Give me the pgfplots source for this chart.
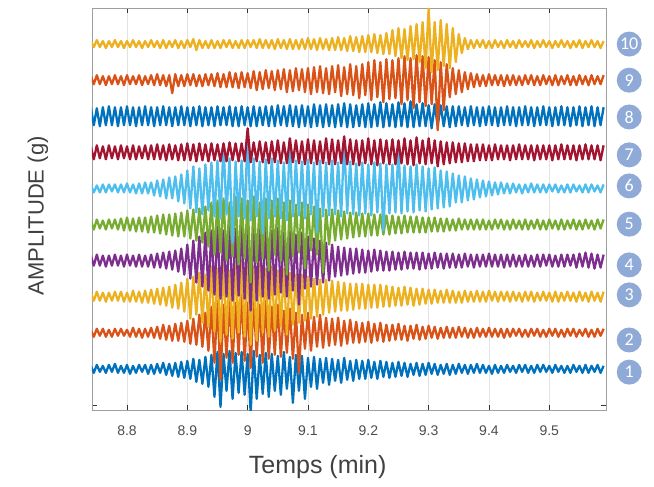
\documentclass[border=0pt]{standalone}
\usepackage{fontspec}
\setmainfont{Liberation Sans}
\newfontfamily\calib{Carlito}
\usepackage{pgfplots}
\usepackage{pgfplotstable}
\pgfplotsset{compat=1.18}

\definecolor{c1}{RGB}{0,114,189}
\definecolor{c2}{RGB}{217,83,25}
\definecolor{c3}{RGB}{237,177,32}
\definecolor{c4}{RGB}{126,47,142}
\definecolor{c5}{RGB}{119,172,48}
\definecolor{c6}{RGB}{77,190,238}
\definecolor{c7}{RGB}{162,20,47}
\definecolor{badge}{RGB}{143,170,214}
\definecolor{txt}{RGB}{64,64,64}

% one column per trace, offsets in pixels of the original (36.1 px between traces)
% samples every 0.005 min from 8.74
\pgfplotstableread[row sep=\\]{y\\
3\\-4\\4\\-3\\3\\-4\\4\\-3\\5\\-4\\
3\\-4\\4\\-5\\3\\-4\\4\\-3\\4\\-5\\
4\\-5\\5\\-4\\6\\-6\\5\\-7\\6\\-8\\
7\\-9\\8\\-10\\10\\-13\\9\\-15\\12\\-18\\
14\\-28\\17\\-38\\15\\-22\\18\\-30\\16\\-24\\
17\\-26\\15\\-44\\18\\-30\\14\\-25\\16\\-28\\
15\\-22\\13\\-26\\17\\-20\\12\\-34\\14\\-22\\
13\\-30\\11\\-18\\12\\-20\\10\\-14\\11\\-16\\
10\\-12\\9\\-14\\11\\-11\\8\\-12\\9\\-10\\
8\\-10\\9\\-9\\7\\-10\\8\\-8\\7\\-9\\
6\\-8\\7\\-7\\6\\-8\\5\\-6\\6\\-7\\
5\\-6\\6\\-5\\5\\-6\\4\\-5\\5\\-6\\
4\\-5\\5\\-4\\4\\-5\\4\\-4\\5\\-4\\
4\\-4\\3\\-5\\4\\-4\\3\\-4\\4\\-3\\
3\\-4\\4\\-3\\4\\-4\\3\\-4\\4\\-3\\
4\\-3\\3\\-4\\4\\-3\\3\\-4\\3\\-4\\
4\\-3\\3\\-4\\4\\-4\\3\\-3\\4\\-4\\
3\\}\tabA

\pgfplotstableread[row sep=\\]{y\\
3\\-4\\4\\-3\\4\\-4\\3\\-4\\4\\-3\\
4\\-3\\3\\-4\\5\\-4\\4\\-5\\4\\-4\\
5\\-5\\6\\-6\\8\\-7\\7\\-8\\9\\-8\\
10\\-9\\12\\-11\\14\\-12\\18\\-14\\20\\-18\\
26\\-30\\32\\-47\\28\\-25\\35\\-30\\30\\-22\\
38\\-28\\30\\-35\\34\\-24\\28\\-30\\32\\-26\\
26\\-22\\28\\-24\\22\\-20\\24\\-26\\20\\-40\\
18\\-16\\20\\-18\\16\\-14\\18\\-15\\15\\-13\\
14\\-12\\15\\-13\\12\\-11\\13\\-10\\11\\-10\\
10\\-9\\11\\-10\\9\\-8\\10\\-9\\8\\-8\\
8\\-7\\9\\-7\\7\\-8\\7\\-6\\8\\-7\\
6\\-6\\7\\-5\\6\\-6\\5\\-5\\6\\-5\\
5\\-5\\6\\-4\\5\\-5\\4\\-5\\5\\-4\\
4\\-4\\5\\-4\\4\\-4\\4\\-5\\4\\-4\\
4\\-3\\4\\-4\\3\\-4\\4\\-3\\4\\-4\\
3\\-4\\4\\-3\\4\\-4\\3\\-4\\4\\-3\\
4\\-4\\3\\-3\\4\\-4\\3\\-4\\4\\-3\\
4\\}\tabB

\pgfplotstableread[row sep=\\]{y\\
4\\-4\\5\\-4\\4\\-5\\4\\-4\\5\\-4\\
5\\-5\\4\\-5\\6\\-5\\5\\-6\\6\\-6\\
7\\-7\\8\\-8\\9\\-9\\10\\-11\\12\\-12\\
14\\-15\\18\\-22\\20\\-18\\24\\-26\\22\\-30\\
30\\-35\\28\\-45\\34\\-38\\26\\-42\\32\\-36\\
36\\-40\\38\\-48\\30\\-44\\34\\-36\\28\\-40\\
30\\-34\\26\\-30\\28\\-38\\24\\-28\\22\\-26\\
22\\-24\\20\\-22\\18\\-20\\17\\-18\\17\\-16\\
16\\-15\\15\\-14\\14\\-14\\13\\-13\\13\\-12\\
13\\-12\\12\\-11\\12\\-11\\12\\-10\\11\\-10\\
10\\-9\\9\\-9\\10\\-8\\9\\-9\\8\\-8\\
8\\-7\\7\\-7\\7\\-6\\6\\-6\\7\\-6\\
6\\-6\\5\\-6\\6\\-5\\5\\-5\\6\\-5\\
5\\-5\\6\\-4\\5\\-5\\5\\-4\\5\\-5\\
5\\-4\\4\\-5\\5\\-4\\5\\-5\\4\\-4\\
5\\-4\\4\\-5\\5\\-5\\4\\-4\\5\\-4\\
4\\-5\\5\\-4\\4\\-5\\5\\-4\\4\\-5\\
5\\}\tabC

\pgfplotstableread[row sep=\\]{y\\
5\\-5\\6\\-5\\5\\-6\\5\\-5\\6\\-5\\
5\\-6\\6\\-5\\5\\-6\\6\\-6\\5\\-6\\
6\\-7\\7\\-7\\8\\-8\\9\\-9\\10\\-11\\
12\\-14\\16\\-18\\20\\-22\\24\\-26\\28\\-30\\
30\\-34\\34\\-38\\30\\-36\\36\\-40\\32\\-35\\
36\\-38\\34\\-50\\37\\-40\\32\\-36\\35\\-38\\
30\\-34\\33\\-32\\28\\-36\\30\\-30\\26\\-44\\
28\\-28\\24\\-26\\22\\-24\\20\\-22\\18\\-20\\
16\\-16\\14\\-15\\13\\-14\\12\\-13\\12\\-12\\
11\\-12\\10\\-11\\11\\-10\\10\\-10\\9\\-10\\
9\\-9\\8\\-9\\9\\-8\\8\\-8\\8\\-9\\
8\\-8\\7\\-8\\8\\-7\\7\\-8\\7\\-7\\
7\\-7\\6\\-7\\7\\-6\\6\\-7\\6\\-6\\
6\\-6\\7\\-6\\6\\-6\\6\\-7\\6\\-6\\
6\\-6\\5\\-6\\6\\-6\\5\\-6\\6\\-6\\
6\\-5\\6\\-6\\5\\-6\\6\\-6\\6\\-5\\
6\\-7\\7\\-6\\8\\-7\\7\\-8\\6\\-7\\
6\\}\tabD

\pgfplotstableread[row sep=\\]{y\\
4\\-5\\5\\-4\\4\\-5\\5\\-4\\5\\-5\\
6\\-6\\7\\-6\\6\\-7\\7\\-7\\7\\-8\\
8\\-8\\9\\-9\\10\\-10\\10\\-11\\11\\-12\\
12\\-12\\14\\-14\\15\\-16\\16\\-18\\18\\-22\\
22\\-30\\24\\-28\\26\\-36\\22\\-32\\28\\-40\\
26\\-34\\24\\-58\\28\\-38\\22\\-34\\26\\-46\\
24\\-30\\26\\-36\\22\\-50\\24\\-32\\20\\-28\\
22\\-44\\20\\-26\\18\\-30\\16\\-48\\15\\-20\\
15\\-16\\14\\-15\\13\\-14\\12\\-13\\12\\-12\\
11\\-12\\11\\-11\\10\\-11\\10\\-10\\9\\-10\\
9\\-9\\8\\-9\\9\\-8\\8\\-8\\8\\-8\\
7\\-8\\7\\-7\\7\\-7\\6\\-7\\6\\-6\\
5\\-6\\6\\-5\\5\\-5\\5\\-5\\5\\-5\\
5\\-5\\4\\-5\\5\\-4\\5\\-5\\4\\-5\\
5\\-4\\4\\-5\\5\\-5\\4\\-4\\5\\-5\\
4\\-5\\5\\-4\\4\\-5\\5\\-5\\4\\-4\\
5\\-5\\4\\-5\\5\\-4\\4\\-5\\5\\-4\\
5\\}\tabE

\pgfplotstableread[row sep=\\]{y\\
4\\-4\\3\\-4\\4\\-4\\4\\-3\\4\\-4\\
4\\-4\\5\\-4\\4\\-5\\5\\-5\\6\\-5\\
6\\-7\\8\\-8\\9\\-10\\11\\-10\\12\\-13\\
14\\-15\\18\\-20\\22\\-24\\20\\-26\\24\\-22\\
26\\-28\\28\\-30\\44\\-26\\30\\-54\\27\\-28\\
28\\-30\\56\\-32\\30\\-28\\27\\-45\\29\\-30\\
30\\-28\\28\\-30\\26\\-32\\50\\-28\\28\\-27\\
27\\-30\\29\\-26\\26\\-44\\28\\-28\\26\\-27\\
28\\-26\\26\\-28\\48\\-25\\27\\-26\\25\\-27\\
26\\-25\\24\\-27\\26\\-24\\25\\-42\\24\\-25\\
24\\-24\\40\\-25\\23\\-23\\22\\-24\\24\\-22\\
22\\-23\\20\\-21\\21\\-20\\18\\-19\\17\\-18\\
15\\-14\\13\\-14\\12\\-12\\10\\-11\\9\\-9\\
8\\-8\\7\\-7\\6\\-6\\6\\-5\\5\\-5\\
5\\-4\\4\\-5\\4\\-4\\5\\-4\\4\\-4\\
4\\-4\\4\\-3\\4\\-4\\3\\-4\\4\\-4\\
4\\-3\\3\\-4\\4\\-4\\4\\-3\\3\\-4\\
4\\}\tabF

\pgfplotstableread[row sep=\\]{y\\
6\\-7\\7\\-6\\6\\-7\\7\\-6\\6\\-7\\
7\\-6\\6\\-7\\7\\-7\\6\\-6\\7\\-7\\
7\\-7\\8\\-7\\7\\-8\\8\\-7\\7\\-8\\
8\\-8\\9\\-8\\8\\-9\\9\\-8\\8\\-9\\
9\\-8\\8\\-9\\9\\-9\\10\\-8\\9\\-9\\
9\\-9\\24\\-10\\10\\-9\\11\\-10\\10\\-11\\
11\\-10\\12\\-11\\10\\-11\\14\\-10\\12\\-11\\
11\\-12\\13\\-11\\12\\-12\\11\\-11\\14\\-12\\
13\\-12\\12\\-11\\16\\-12\\13\\-12\\12\\-13\\
12\\-11\\14\\-12\\12\\-13\\13\\-11\\12\\-12\\
13\\-12\\12\\-11\\14\\-12\\12\\-13\\15\\-11\\
12\\-12\\14\\-11\\12\\-14\\11\\-12\\10\\-11\\
10\\-10\\9\\-10\\9\\-9\\8\\-9\\8\\-8\\
8\\-8\\7\\-8\\8\\-7\\7\\-7\\7\\-8\\
7\\-7\\8\\-7\\7\\-7\\7\\-8\\7\\-7\\
7\\-7\\7\\-8\\7\\-7\\8\\-7\\7\\-7\\
7\\-8\\7\\-7\\8\\-7\\7\\-7\\7\\-8\\
7\\}\tabG

\pgfplotstableread[row sep=\\]{y\\
9\\-9\\8\\-10\\9\\-9\\10\\-9\\9\\-10\\
9\\-9\\10\\-9\\9\\-10\\9\\-9\\10\\-9\\
9\\-10\\9\\-9\\10\\-9\\9\\-10\\9\\-9\\
10\\-9\\9\\-10\\9\\-9\\10\\-10\\9\\-9\\
9\\-10\\10\\-9\\9\\-9\\10\\-10\\9\\-10\\
10\\-9\\9\\-10\\10\\-10\\9\\-9\\10\\-10\\
10\\-10\\11\\-9\\10\\-10\\11\\-10\\10\\-11\\
11\\-10\\10\\-11\\12\\-10\\11\\-11\\12\\-10\\
11\\-11\\12\\-10\\13\\-11\\12\\-11\\11\\-10\\
12\\-11\\13\\-11\\12\\-10\\14\\-11\\13\\-10\\
12\\-11\\14\\-10\\13\\-11\\15\\-11\\12\\-10\\
13\\-10\\11\\-12\\12\\-10\\11\\-10\\10\\-11\\
10\\-10\\10\\-9\\9\\-10\\10\\-9\\9\\-10\\
9\\-9\\10\\-9\\9\\-10\\9\\-9\\10\\-9\\
9\\-10\\9\\-9\\10\\-9\\9\\-10\\9\\-9\\
10\\-9\\9\\-10\\9\\-9\\10\\-9\\9\\-10\\
9\\-9\\10\\-10\\9\\-9\\10\\-10\\9\\-9\\
9\\}\tabH

\pgfplotstableread[row sep=\\]{y\\
4\\-4\\5\\-4\\4\\-5\\4\\-4\\5\\-4\\
4\\-5\\5\\-4\\4\\-4\\5\\-5\\4\\-4\\
5\\-5\\6\\-5\\5\\-6\\5\\-13\\6\\-6\\
5\\-6\\6\\-5\\6\\-6\\5\\-6\\6\\-5\\
6\\-6\\7\\-7\\6\\-7\\8\\-7\\7\\-8\\
8\\-7\\7\\-8\\9\\-10\\8\\-9\\10\\-8\\
9\\-10\\10\\-9\\11\\-12\\10\\-11\\12\\-10\\
11\\-12\\12\\-14\\13\\-12\\14\\-13\\12\\-14\\
14\\-12\\15\\-16\\13\\-14\\16\\-15\\14\\-18\\
16\\-15\\18\\-20\\20\\-17\\18\\-22\\21\\-19\\
20\\-18\\22\\-24\\24\\-20\\22\\-28\\25\\-22\\
24\\-26\\23\\-24\\20\\-50\\18\\-30\\16\\-17\\
12\\-14\\10\\-12\\8\\-9\\7\\-7\\6\\-6\\
5\\-6\\6\\-5\\5\\-5\\5\\-6\\5\\-5\\
5\\-5\\4\\-5\\5\\-4\\5\\-5\\4\\-5\\
5\\-4\\4\\-5\\5\\-5\\4\\-4\\5\\-5\\
4\\-5\\5\\-4\\4\\-5\\5\\-4\\4\\-4\\
5\\}\tabI

\pgfplotstableread[row sep=\\]{y\\
3\\-3\\4\\-3\\3\\-4\\3\\-3\\4\\-3\\
3\\-4\\3\\-3\\4\\-3\\3\\-4\\3\\-3\\
4\\-3\\3\\-4\\4\\-4\\3\\-3\\4\\-4\\
3\\-4\\4\\-3\\5\\-6\\4\\-4\\3\\-4\\
4\\-4\\3\\-4\\4\\-3\\4\\-4\\3\\-4\\
4\\-4\\4\\-3\\4\\-4\\5\\-4\\4\\-4\\
4\\-5\\5\\-4\\4\\-5\\5\\-5\\4\\-5\\
5\\-5\\6\\-5\\5\\-6\\6\\-5\\5\\-6\\
6\\-6\\7\\-6\\6\\-7\\8\\-7\\7\\-8\\
8\\-8\\9\\-8\\10\\-9\\9\\-10\\11\\-10\\
14\\-12\\16\\-14\\15\\-16\\18\\-15\\20\\-18\\
22\\-24\\36\\-28\\22\\-26\\24\\-22\\20\\-24\\
16\\-18\\10\\-9\\6\\-5\\4\\-4\\4\\-3\\
4\\-4\\3\\-4\\4\\-3\\3\\-4\\4\\-3\\
3\\-4\\4\\-3\\3\\-3\\4\\-4\\3\\-3\\
4\\-3\\3\\-4\\3\\-3\\4\\-3\\3\\-4\\
3\\-3\\4\\-4\\3\\-3\\4\\-3\\3\\-4\\
3\\}\tabJ

\newcommand{\trace}[3]{%
  \addplot[#3] table[x expr=8.74+0.005*\coordindex, y expr=#2+\thisrow{y}/36.1] {#1};
}

\begin{document}
\begin{tikzpicture}[badge/.style={circle, fill=badge, text=white, minimum size=25pt,
        inner sep=0pt, font=\calib\fontsize{18}{18}\selectfont}]
\begin{axis}[
    width=514pt, height=402pt,
    scale only axis,
    xmin=8.742, xmax=9.594,
    ymin=-0.14, ymax=11.0,
    xtick={8.8,8.9,9,9.1,9.2,9.3,9.4,9.5},
    ytick={0}, yticklabels={},
    tick align=inside,
    major tick length=5pt,
    xmajorgrids, ymajorgrids=false,
    grid style={gray!22, line width=0.6pt},
    axis line style={gray!75, line width=0.8pt},
    tick style={black!80, line width=0.8pt},
    /pgf/number format/assume math mode=true,
    ticklabel style={font=\fontsize{14}{16}\selectfont, text=black!70},
    xticklabel style={yshift=-12pt},
    xlabel={Temps (min)},
    xlabel style={font=\fontsize{25}{28}\selectfont, text=txt,
        at={(axis description cs:0.439,-0.142)}, anchor=center},
    ylabel={AMPLITUDE (g)},
    ylabel style={font=\fontsize{22}{24}\selectfont, text=txt,
        at={(axis description cs:-0.105,0.483)}, anchor=center},
    every axis plot/.append style={line width=2.3pt, line join=round},
    table/x index=0, table/y index=0,
]
\trace{\tabA}{1}{c1}
\trace{\tabB}{2}{c2}
\trace{\tabC}{3}{c3}
\trace{\tabD}{4}{c4}
\trace{\tabE}{5}{c5}
\trace{\tabF}{6}{c6}
\trace{\tabG}{7}{c7}
\trace{\tabH}{8}{c1}
\trace{\tabI}{9}{c2}
\trace{\tabJ}{10}{c3}
\coordinate (b1) at (axis cs:9.6325,0.91);
\coordinate (b2) at (axis cs:9.6325,1.80);
\coordinate (b3) at (axis cs:9.6325,3.05);
\coordinate (b4) at (axis cs:9.6325,3.88);
\coordinate (b5) at (axis cs:9.6325,5.01);
\coordinate (b6) at (axis cs:9.6325,6.07);
\coordinate (b7) at (axis cs:9.6325,6.93);
\coordinate (b8) at (axis cs:9.6325,7.98);
\coordinate (b9) at (axis cs:9.6325,9.0);
\coordinate (b10) at (axis cs:9.6325,10.0);
\end{axis}
\node[badge] at (b1) {1};
\node[badge] at (b2) {2};
\node[badge] at (b3) {3};
\node[badge] at (b4) {4};
\node[badge] at (b5) {5};
\node[badge] at (b6) {6};
\node[badge] at (b7) {7};
\node[badge] at (b8) {8};
\node[badge] at (b9) {9};
\node[badge] at (b10) {10};
\path ([shift={(-92pt,-76pt)}]current axis.south west) rectangle ([shift={(48pt,8pt)}]current axis.north east);
\end{tikzpicture}
\end{document}
